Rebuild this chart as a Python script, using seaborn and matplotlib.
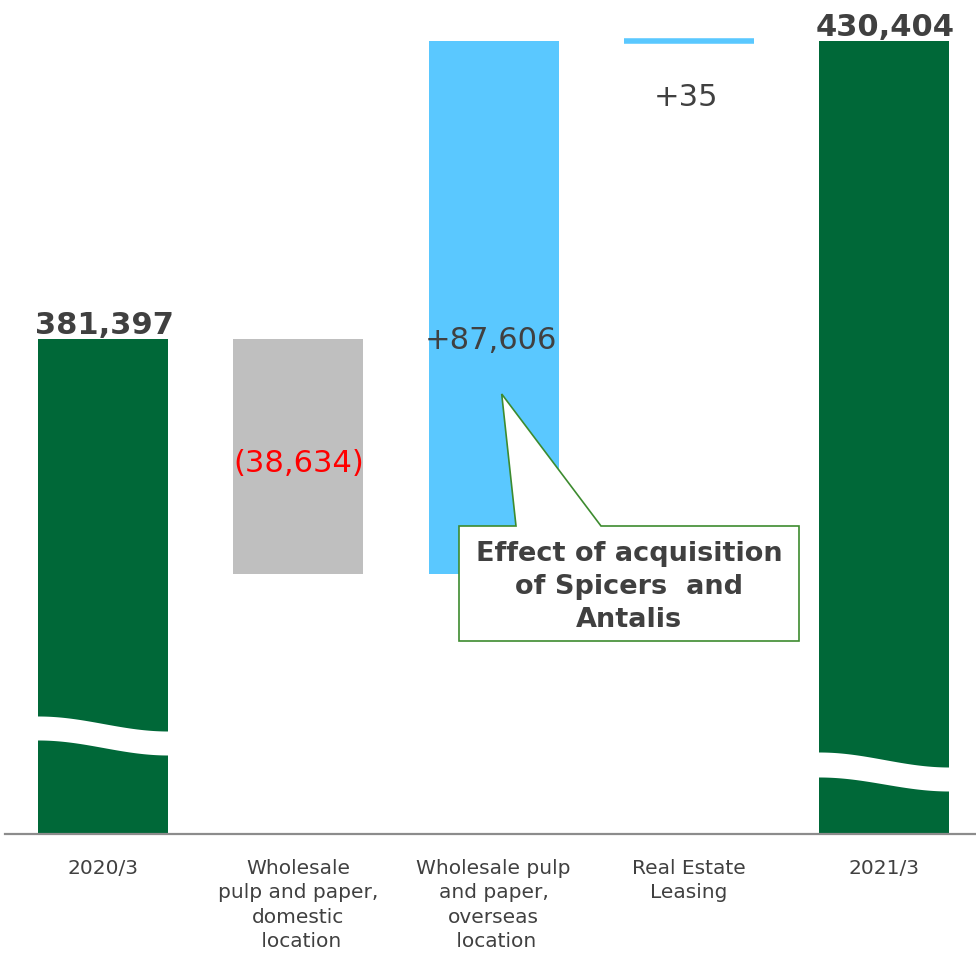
import matplotlib
matplotlib.use("Agg")
import matplotlib.pyplot as plt
import seaborn as sns
import numpy as np
import pandas as pd
from matplotlib.patches import Polygon

# ---------------- data ----------------
categories = [
    "2020/3",
    "Wholesale\npulp and paper,\ndomestic\n location",
    "Wholesale pulp\nand paper,\noverseas\n location",
    "Real Estate\nLeasing",
    "2021/3",
]
start_total = 381397
changes = [-38634, 87606, 35]
end_total = 430404
total_labels = ["381,397", "430,404"]
change_labels = ["(38,634)", "+87,606", "+35"]

# ---------------- style ----------------
sns.set_style("white")
plt.rcParams["font.family"] = ["DejaVu Sans"]

GREEN = "#006838"
BLUE = "#5AC8FF"
GRAY = "#BFBFBF"
TEXT = "#404040"
RED = "#FF0000"

W, H = 976, 954
fig = plt.figure(figsize=(W / 100, H / 100), dpi=100)
ax = fig.add_axes([5 / W, 119 / H, 971 / W, 835 / H])

YMIN = 300000
YMAX = 437360
PX = (YMAX - YMIN) / 835.0  # data units per pixel

# build waterfall table
rows = []
rows.append(dict(cat=categories[0], bottom=0, height=start_total, color=GREEN))
level = start_total
for cat, ch in zip(categories[1:4], changes):
    new = level + ch
    rows.append(dict(cat=cat, bottom=min(level, new), height=abs(ch),
                     color=GRAY if ch < 0 else BLUE))
    level = new
rows.append(dict(cat=categories[4], bottom=0, height=end_total, color=GREEN))
df = pd.DataFrame(rows)

BAR_W = 0.666
for _, r in df.iterrows():
    if r["height"] < 5 * PX:  # very small change: keep visible with an edge
        extra = dict(edgecolor=r["color"], linewidth=4.0)
    else:
        extra = dict(edgecolor="none", linewidth=0)
    sns.barplot(x=[r["cat"]], y=[r["height"]], order=categories, color=r["color"],
                width=BAR_W, bottom=r["bottom"], ax=ax, saturation=1, **extra)

ax.set_xlim(-0.502, 4.471)
ax.set_ylim(YMIN, YMAX)
ax.set_xlabel("")
ax.set_ylabel("")
ax.set_yticks([])
ax.set_xticks(range(len(categories)))
ax.set_xticklabels(categories, linespacing=1.37)

for s in ["top", "right", "left"]:
    ax.spines[s].set_visible(False)
ax.spines["bottom"].set_color("#8c8c8c")
ax.spines["bottom"].set_linewidth(1.6)
ax.spines["bottom"].set_zorder(4)
ax.tick_params(axis="x", length=0, pad=17, labelsize=14.5, labelcolor=TEXT)

# ---------------- axis-break bands on total bars ----------------
def break_band(xc, top_l, top_r, bot_l, bot_r):
    xs = np.linspace(xc - 0.36, xc + 0.36, 200)
    t = np.clip((xs - (xc - BAR_W / 2)) / BAR_W, 0, 1)
    s = (1 - np.cos(np.pi * t)) / 2
    top = YMIN + (top_l + (top_r - top_l) * s) * PX
    bot = YMIN + (bot_l + (bot_r - bot_l) * s) * PX
    ax.fill_between(xs, bot, top, color="white", zorder=3, linewidth=0)

break_band(0, 118, 103, 94, 79)
break_band(4, 82, 67, 57, 43)

# ---------------- value labels ----------------
ax.annotate(total_labels[0], (0, start_total), xytext=(1, 6), textcoords="offset pixels",
            ha="center", va="baseline", fontsize=22, fontweight="bold", color=TEXT)
ax.annotate(total_labels[1], (4, end_total), xytext=(1, 6), textcoords="offset pixels",
            ha="center", va="baseline", fontsize=22, fontweight="bold", color=TEXT)

mid_dom = df.loc[1, "bottom"] + df.loc[1, "height"] / 2
ax.annotate(change_labels[0], (1, mid_dom), xytext=(0, -6), textcoords="offset pixels",
            ha="center", va="center", fontsize=22, color=RED)
ax.annotate(change_labels[1], (2, start_total), xytext=(-3, 0), textcoords="offset pixels",
            ha="center", va="center", fontsize=22, color=TEXT)
ax.annotate(change_labels[2], (3, end_total), xytext=(-3, -55), textcoords="offset pixels",
            ha="center", va="center", fontsize=22, color=TEXT)

# ---------------- callout ----------------
pts_px = [(459, 527), (516, 527), (501.7, 395), (601, 527), (799, 527),
          (799, 642), (459, 642)]
pts = [(x / W, 1 - y / H) for x, y in pts_px]
fig.patches.append(Polygon(pts, closed=True, transform=fig.transFigure,
                           facecolor="white", edgecolor="#3d8b2f", linewidth=1.2,
                           zorder=5))
fig.text(629 / W, 1 - 587 / H, "Effect of acquisition\nof Spicers  and\nAntalis",
         ha="center", va="center", fontsize=19.5, fontweight="bold", color=TEXT,
         linespacing=1.37, zorder=6)

fig.savefig("out.png", dpi=100)
